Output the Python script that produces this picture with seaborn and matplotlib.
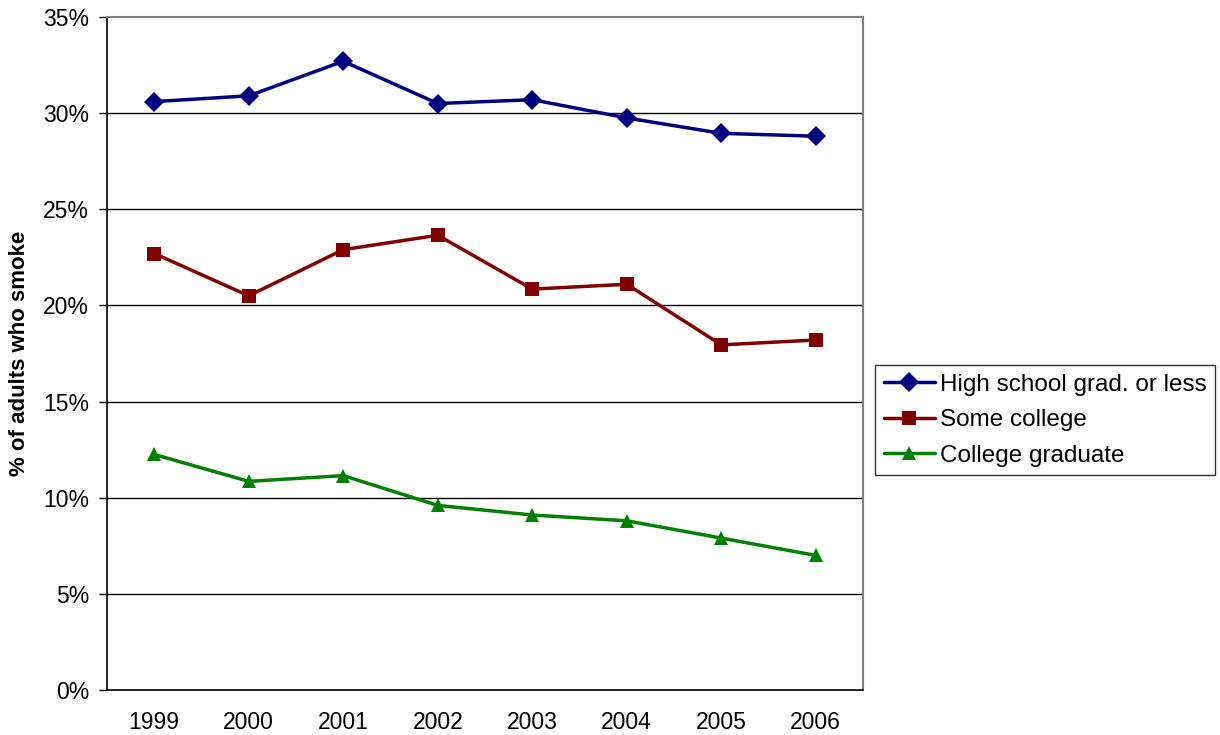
import numpy as np
import pandas as pd
import seaborn as sns
import matplotlib.pyplot as plt
from matplotlib.ticker import FuncFormatter

# data
years = ['1999', '2000', '2001', '2002', '2003', '2004', '2005', '2006']
high_school = [30.6, 30.9, 32.7, 30.5, 30.7, 29.75, 28.95, 28.8]
some_college = [22.7, 20.5, 22.9, 23.65, 20.85, 21.1, 17.95, 18.2]
college_grad = [12.25, 10.85, 11.15, 9.6, 9.1, 8.8, 7.9, 7.0]
series_names = ['High school grad. or less', 'Some college', 'College graduate']

df = pd.DataFrame({
    'pos': list(range(len(years))) * 3,
    'value': high_school + some_college + college_grad,
    'group': np.repeat(series_names, len(years)),
})

sns.set_style('white')
plt.rcParams['font.family'] = ['Liberation Sans', 'DejaVu Sans']
plt.rcParams['text.color'] = 'black'
plt.rcParams['axes.labelcolor'] = 'black'
plt.rcParams['xtick.color'] = 'black'
plt.rcParams['ytick.color'] = 'black'

fig = plt.figure(figsize=(12.2, 7.35), dpi=100)
ax = fig.add_axes([107/1220, 45/735, 756/1220, 673/735])

palette = {'High school grad. or less': '#000080',
           'Some college': '#800000',
           'College graduate': '#008000'}
markers = {'High school grad. or less': 'D',
           'Some college': 's',
           'College graduate': '^'}
sns.lineplot(data=df, x='pos', y='value', hue='group', style='group',
             palette=palette, markers=markers, dashes=False,
             linewidth=2.5, markersize=10, markeredgewidth=0, ax=ax)

ax.set_xlim(-0.5, 7.5)
ax.set_ylim(0, 35)
ax.set_yticks(np.arange(0, 36, 5))
ax.yaxis.set_major_formatter(FuncFormatter(lambda v, p: '%d%%' % v))
for v in range(5, 35, 5):
    ax.axhline(v, color='black', linewidth=1, zorder=0)

ax.set_xticks(range(len(years)))
ax.set_xticklabels(years)
ax.set_xticks(np.arange(-0.5, 8, 1), minor=True)
ax.tick_params(axis='x', which='major', length=0, pad=15, labelsize=16.5)
ax.tick_params(axis='x', which='minor', length=6, width=1, color='black', direction='out')
ax.tick_params(axis='y', length=6, width=1, color='black', direction='out', labelsize=16.5, pad=7)
ax.tick_params(left=True, bottom=True)

for s in ['left', 'bottom']:
    ax.spines[s].set_color('black')
    ax.spines[s].set_linewidth(1.2)
for s in ['top', 'right']:
    ax.spines[s].set_color('#808080')
    ax.spines[s].set_linewidth(1.5)

ax.set_xlabel('')
ax.set_ylabel('% of adults who smoke', fontsize=16, fontweight='bold', labelpad=9)

leg = ax.legend(loc='center left', bbox_to_anchor=(1.016, 0.401), fontsize=17.5,
                frameon=True, fancybox=False, edgecolor='black', borderpad=0.35,
                handlelength=2.1, handletextpad=0.2, labelspacing=0.55,
                borderaxespad=0)
leg.get_frame().set_linewidth(1)

fig.savefig('out.png', dpi=100)
